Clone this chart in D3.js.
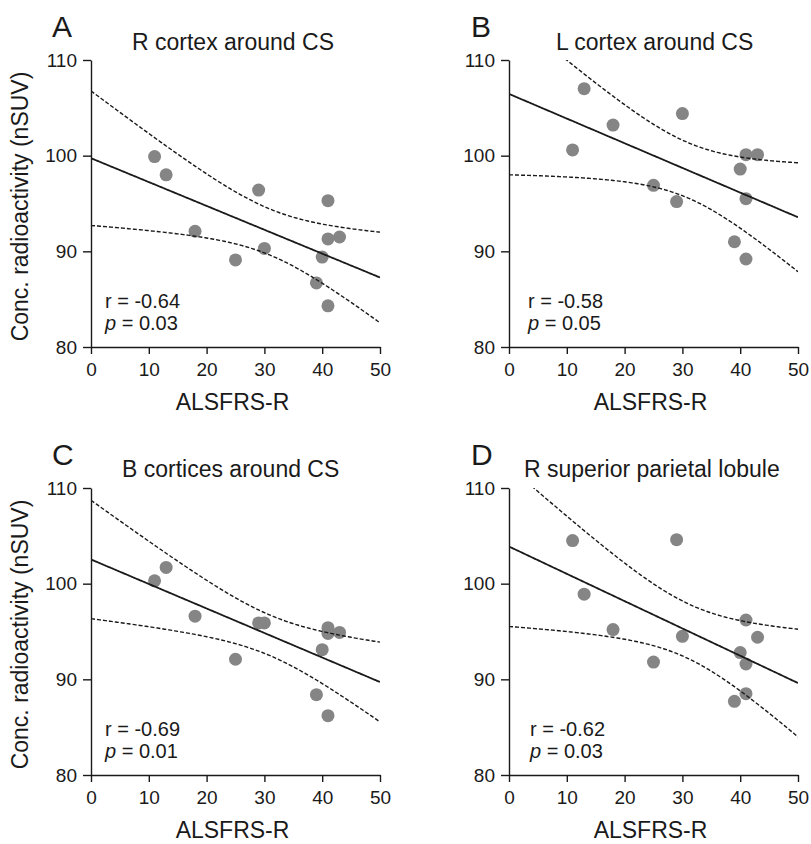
<!DOCTYPE html>
<html>
<head>
<meta charset="utf-8">
<script src="https://cdn.jsdelivr.net/npm/d3@7"></script>
<style>
  html, body { margin: 0; padding: 0; background: #fff; }
  svg { display: block; }
  text { font-family: 'Liberation Sans', Arial, Helvetica, sans-serif; fill: #1a1a1a; }
</style>
</head>
<body>
<svg id="chart" width="811" height="844"></svg>
<script>
// ---------- data ----------
const panelLetters = ["A", "B", "C", "D"];
const panelTitles = ["R cortex around CS", "L cortex around CS", "B cortices around CS", "R superior parietal lobule"];
const xA = [11, 13, 18, 25, 29, 30, 39, 40, 41, 41, 41, 43];
const yA = [99.9, 98.0, 92.1, 89.1, 96.4, 90.3, 86.7, 89.4, 95.3, 91.3, 84.3, 91.5];
const xB = [11, 13, 18, 25, 29, 30, 39, 40, 41, 41, 41, 43];
const yB = [100.6, 107.0, 103.2, 96.9, 95.2, 104.4, 91.0, 98.6, 100.1, 95.5, 89.2, 100.1];
const xC = [11, 13, 18, 25, 29, 30, 39, 40, 41, 41, 41, 43];
const yC = [100.3, 101.7, 96.6, 92.1, 95.9, 95.9, 88.4, 93.1, 95.4, 94.8, 86.2, 94.9];
const xD = [11, 13, 18, 25, 29, 30, 39, 40, 41, 41, 41, 43];
const yD = [104.5, 98.9, 95.2, 91.8, 104.6, 94.5, 87.7, 92.8, 96.2, 91.6, 88.5, 94.4];
const rValues = ["-0.64", "-0.58", "-0.69", "-0.62"];
const pValues = ["0.03", "0.05", "0.01", "0.03"];
const xTicks = [0, 10, 20, 30, 40, 50];
const yTicks = [80, 90, 100, 110];
const xDomain = [0, 50];
const yDomain = [80, 110];
const xLabel = "ALSFRS-R";
const yLabel = "Conc. radioactivity (nSUV)";
const tCrit = 2.228; // t(0.975, df = 10)

// ---------- layout ----------
const layout = [
  { left: 91, right: 380, top: 60, bottom: 347, letterX: 52, letterY: 37, titleX: 132, titleY: 50, statX: 105, showY: true },
  { left: 509, right: 798, top: 60, bottom: 347, letterX: 471, letterY: 37, titleX: 556, titleY: 50, statX: 528, showY: false },
  { left: 91, right: 380, top: 488, bottom: 775, letterX: 52, letterY: 465, titleX: 122, titleY: 477, statX: 105, showY: true },
  { left: 509, right: 798, top: 488, bottom: 775, letterX: 471, letterY: 465, titleX: 524, titleY: 477, statX: 530, showY: false }
];
const seriesX = [xA, xB, xC, xD];
const seriesY = [yA, yB, yC, yD];

const svg = d3.select("#chart");

function fit(xs, ys) {
  const n = xs.length;
  const mx = d3.mean(xs), my = d3.mean(ys);
  let sxx = 0, sxy = 0;
  for (let i = 0; i < n; i++) { sxx += (xs[i] - mx) ** 2; sxy += (xs[i] - mx) * (ys[i] - my); }
  const b = sxy / sxx, a = my - b * mx;
  let sse = 0;
  for (let i = 0; i < n; i++) sse += (ys[i] - (a + b * xs[i])) ** 2;
  const s = Math.sqrt(sse / (n - 2));
  return { a, b, s, n, mx, sxx };
}

layout.forEach((L, i) => {
  const xs = seriesX[i], ys = seriesY[i];
  const x = d3.scaleLinear().domain(xDomain).range([L.left, L.right]);
  const y = d3.scaleLinear().domain(yDomain).range([L.bottom, L.top]);
  const g = svg.append("g");

  const clipId = "clip" + i;
  svg.append("clipPath").attr("id", clipId).append("rect")
    .attr("x", L.left).attr("y", L.top).attr("width", L.right - L.left).attr("height", L.bottom - L.top);

  // axes
  const xAxis = d3.axisBottom(x).tickValues(xTicks).tickSize(7).tickPadding(9).tickSizeOuter(0);
  const yAxis = d3.axisLeft(y).tickValues(yTicks).tickSize(8).tickPadding(6).tickSizeOuter(0);
  const gx = g.append("g").attr("transform", `translate(0,${L.bottom})`).call(xAxis);
  const gy = g.append("g").attr("transform", `translate(${L.left},0)`).call(yAxis);
  [gx, gy].forEach(a => {
    a.selectAll("path, line").attr("stroke", "#1a1a1a").attr("stroke-width", 1.4);
    a.selectAll("text").attr("font-size", 19).attr("fill", "#1a1a1a")
      .attr("font-family", "'Liberation Sans', Arial, Helvetica, sans-serif");
  });

  // fitted line and 95% CI
  const f = fit(xs, ys);
  const grid = d3.range(xDomain[0], xDomain[1] + 0.001, 0.25);
  const band = grid.map(v => {
    const yh = f.a + f.b * v;
    const h = tCrit * f.s * Math.sqrt(1 / f.n + (v - f.mx) ** 2 / f.sxx);
    return { v, yh, lo: yh - h, hi: yh + h };
  });

  // points
  g.append("g").selectAll("circle").data(xs.map((v, k) => [v, ys[k]])).join("circle")
    .attr("cx", d => x(d[0])).attr("cy", d => y(d[1])).attr("r", 6.5)
    .attr("fill", "#858585");

  const lines = g.append("g").attr("clip-path", `url(#${clipId})`);
  ["lo", "hi"].forEach(k => {
    lines.append("path").datum(band)
      .attr("d", d3.line().x(d => x(d.v)).y(d => y(d[k])))
      .attr("fill", "none").attr("stroke", "#1a1a1a").attr("stroke-width", 1.4)
      .attr("stroke-dasharray", "4,2");
  });
  lines.append("path").datum(band)
    .attr("d", d3.line().x(d => x(d.v)).y(d => y(d.yh)))
    .attr("fill", "none").attr("stroke", "#1a1a1a").attr("stroke-width", 1.8);

  // texts
  g.append("text").attr("x", L.letterX).attr("y", L.letterY).attr("font-size", 30).text(panelLetters[i]);
  g.append("text").attr("x", L.titleX).attr("y", L.titleY).attr("font-size", 23).text(panelTitles[i]);
  g.append("text").attr("x", L.statX).attr("y", L.bottom - 39).attr("font-size", 20).text("r = " + rValues[i]);
  const pt = g.append("text").attr("x", L.statX).attr("y", L.bottom - 17).attr("font-size", 20);
  pt.append("tspan").attr("font-style", "italic").text("p");
  pt.append("tspan").text(" = " + pValues[i]);

  g.append("text").attr("x", (L.left + L.right) / 2 - 3).attr("y", L.bottom + 63)
    .attr("text-anchor", "middle").attr("font-size", 23).text(xLabel);

  if (L.showY) {
    g.append("text")
      .attr("transform", `translate(28,${(L.top + L.bottom) / 2 + 3}) rotate(-90)`)
      .attr("text-anchor", "middle").attr("font-size", 23).text(yLabel);
  }
});
</script>
</body>
</html>
